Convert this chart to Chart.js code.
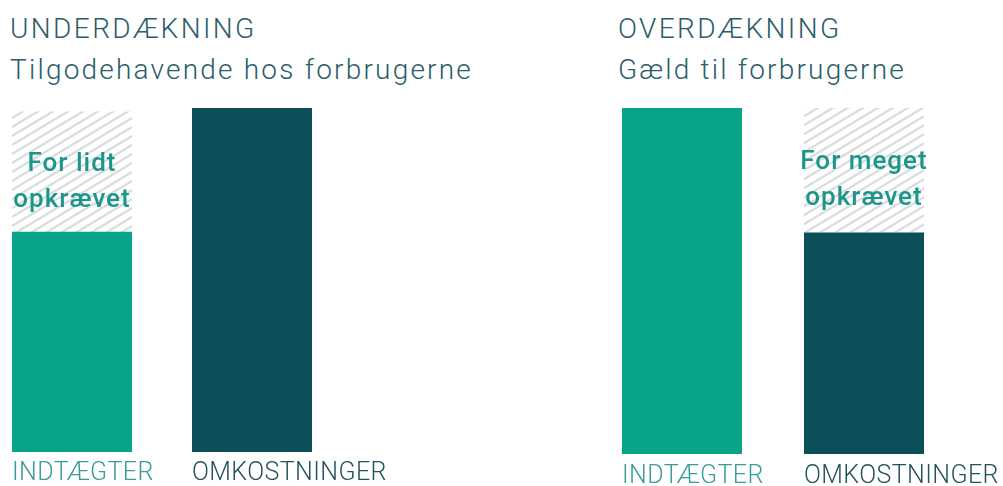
<!DOCTYPE html>
<html>
<head>
<meta charset="utf-8">
<script src="https://cdn.jsdelivr.net/npm/chart.js@4/dist/chart.umd.min.js"></script>
<style>
  html, body { margin:0; padding:0; background:#ffffff; width:1003px; height:486px; overflow:hidden; position:relative; }
  .t { position:absolute; font-family:Roboto, "DejaVu Sans", sans-serif; font-weight:300; color:#2a5d69; white-space:nowrap; line-height:1; }
  canvas { position:absolute; }
</style>
</head>
<body>
<div class="t" id="t1" style="left:10px; top:15px; font-size:28px; letter-spacing:2.4px;">UNDERDÆKNING</div>
<div class="t" id="s1" style="left:10px; top:56px; font-size:28px; letter-spacing:2.2px;">Tilgodehavende hos forbrugerne</div>
<div class="t" id="t2" style="left:618px; top:15px; font-size:28px; letter-spacing:2.4px;">OVERDÆKNING</div>
<div class="t" id="s2" style="left:618px; top:56px; font-size:28px; letter-spacing:2.2px;">Gæld til forbrugerne</div>
<canvas id="c1" width="420" height="386" style="left:-18px; top:100px;"></canvas>
<canvas id="c2" width="412" height="386" style="left:591px; top:100px;"></canvas>
<script>
// ---- data ----
const categories = ['INDTÆGTER', 'OMKOSTNINGER'];
const underSolid = [64, 100];
const underHatch = [35, 0];
const overSolid = [100, 64];
const overHatch = [0, 36];
const underNotes = [['For lidt', 'opkrævet'], null];
const overNotes = [null, ['For meget', 'opkrævet']];
const yMax = 100;

// ---- styles ----
const TEAL = '#07a48a';
const DARK = '#0c4e59';
const LABEL_COLORS = ['#3a9c98', '#24535e'];
const NOTE_COLOR = '#1c968d';

function makeHatch() {
  const w = 15, h = 9;
  const c = document.createElement('canvas');
  c.width = w; c.height = h;
  const g = c.getContext('2d');
  g.fillStyle = '#ffffff';
  g.fillRect(0, 0, w, h);
  g.strokeStyle = '#d7dcdc';
  g.lineWidth = 2.3;
  for (const dy of [-h, 0, h]) {
    g.beginPath();
    g.moveTo(-1, h + dy + h / w);
    g.lineTo(w + 1, dy - h / w);
    g.stroke();
  }
  return g.createPattern(c, 'repeat');
}
const hatchPattern = makeHatch();

const spacingPlugin = {
  id: 'spacing',
  beforeDraw(chart) { chart.ctx.letterSpacing = '0.4px'; }
};

const notePlugin = {
  id: 'notes',
  afterDatasetsDraw(chart, args, opts) {
    const meta = chart.getDatasetMeta(1);
    const notes = opts.notes;
    const ctx = chart.ctx;
    ctx.save();
    ctx.font = '500 26px Roboto, "DejaVu Sans", sans-serif';
    ctx.letterSpacing = '1px';
    ctx.fillStyle = NOTE_COLOR;
    ctx.textAlign = 'center';
    ctx.textBaseline = 'alphabetic';
    meta.data.forEach((el, i) => {
      const lines = notes[i];
      if (!lines) return;
      const cy = (el.y + el.base) / 2;
      ctx.fillText(lines[0], el.x, cy - 1);
      ctx.fillText(lines[1], el.x, cy + 35);
    });
    ctx.restore();
  }
};

function makeChart(id, solid, hatch, notes, padRight, barPct, axisH, tickPad) {
  return new Chart(document.getElementById(id), {
    type: 'bar',
    data: {
      labels: categories,
      datasets: [
        { data: solid, backgroundColor: [TEAL, DARK], borderWidth: 0, barPercentage: barPct, categoryPercentage: 1 },
        { data: hatch, backgroundColor: hatchPattern, borderWidth: 0, barPercentage: barPct, categoryPercentage: 1 }
      ]
    },
    options: {
      responsive: false,
      animation: false,
      layout: { padding: { left: 0, right: padRight, top: 8, bottom: 0 } },
      plugins: {
        legend: { display: false },
        tooltip: { enabled: false },
        notes: { notes: notes }
      },
      scales: {
        x: {
          stacked: true,
          grid: { display: false, drawTicks: false },
          border: { display: false },
          ticks: {
            color: (c) => LABEL_COLORS[c.index],
            font: { family: 'Roboto, "DejaVu Sans", sans-serif', size: 25, weight: '300' },
            align: 'start',
            labelOffset: -60,
            padding: tickPad,
            maxRotation: 0,
            autoSkip: false
          },
          afterFit: (s) => { s.paddingLeft = 0; s.paddingRight = 0; s.height = axisH; }
        },
        y: { stacked: true, min: 0, max: yMax, display: false }
      }
    },
    plugins: [spacingPlugin, notePlugin]
  });
}

makeChart('c1', underSolid, underHatch, underNotes, 60, 120 / 180, 34, 7);
makeChart('c2', overSolid, overHatch, overNotes, 48, 120 / 182, 32, 8);
</script>
</body>
</html>
